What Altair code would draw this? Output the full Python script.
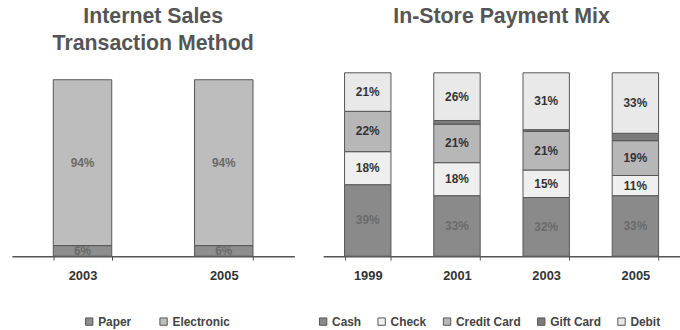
import altair as alt
import pandas as pd

# ---- data ----
internet_years = ["2003", "2005"]
internet_methods = ["Paper", "Electronic"]
paper_pct = [6, 6]
electronic_pct = [94, 94]

store_years = ["1999", "2001", "2003", "2005"]
store_methods = ["Cash", "Check", "Credit Card", "Gift Card", "Debit"]
cash_pct = [39, 33, 32, 33]
check_pct = [18, 18, 15, 11]
credit_pct = [22, 21, 21, 19]
gift_pct = [0, 2, 1, 4]
debit_pct = [21, 26, 31, 33]

internet_colors = ["#8e8e8e", "#bdbdbd"]
store_colors = ["#8a8a8a", "#efefef", "#b7b7b7", "#7c7c7c", "#e9e9e9"]

FONT = "Liberation Sans"


def build(years, methods, series):
    rows = []
    for i, y in enumerate(years):
        for j, m in enumerate(methods):
            rows.append({"year": y, "method": m, "order": j, "value": series[j][i]})
    return pd.DataFrame(rows)


df_int = build(internet_years, internet_methods, [paper_pct, electronic_pct])
df_store = build(store_years, store_methods,
                 [cash_pct, check_pct, credit_pct, gift_pct, debit_pct])


def panel(df, years, methods, colors, title, width, height, ymax, pad_inner,
          legend_x, legend_pad, dark_methods, hide_label):
    xscale = alt.Scale(domain=years, paddingInner=pad_inner, paddingOuter=pad_inner / 2)
    x = alt.X("year:N", scale=xscale, title=None, sort=years,
              axis=alt.Axis(labelAngle=0, labelFont=FONT, labelFontWeight="bold",
                            labelFontSize=13, labelColor="#333", domainColor="#555",
                            domainWidth=1.5, tickColor="#555", tickSize=4,
                            tickBand="extent", labelPadding=10, grid=False))
    base = alt.Chart(df).transform_filter("datum.value > 0").transform_stack(
        stack="value", groupby=["year"], as_=["y0", "y1"],
        sort=[alt.SortField("order", order="ascending")]
    ).transform_calculate(
        mid="(datum.y0 + datum.y1) / 2",
        label="datum.value + '%'",
    )
    yscale = alt.Scale(domain=[0, ymax], nice=False, zero=True)
    bars = base.mark_bar(stroke="#555", strokeWidth=1).encode(
        x=x,
        y=alt.Y("y0:Q", scale=yscale, axis=None),
        y2="y1:Q",
        color=alt.Color("method:N", scale=alt.Scale(domain=methods, range=colors),
                        sort=methods,
                        legend=alt.Legend(title=None, orient="none", direction="horizontal",
                                          legendX=legend_x, legendY=height + 60,
                                          symbolType="square", symbolSize=55,
                                          symbolStrokeColor="#555", symbolStrokeWidth=1,
                                          labelFont=FONT, labelFontWeight="bold",
                                          labelFontSize=12, labelColor="#444",
                                          labelOffset=3, columnPadding=legend_pad)),
        order=alt.Order("order:Q"),
    )
    dark_expr = " || ".join(f"datum.method == '{m}'" for m in dark_methods)
    texts = base.transform_filter(
        f"datum.method != '{hide_label}'"
    ).transform_calculate(
        tc=f"({dark_expr}) ? '#6a6a6a' : '#333333'"
    ).mark_text(font=FONT, fontWeight="bold", fontSize=12).encode(
        x=x,
        y=alt.Y("mid:Q", scale=yscale, axis=None),
        text="label:N",
        color=alt.Color("tc:N", scale=None, legend=None),
    )
    return alt.layer(bars, texts).properties(
        width=width, height=height,
        title=alt.Title(title, font=FONT, fontSize=21.5, fontWeight="bold", color="#555",
                        lineHeight=27, anchor="middle", offset=11.5),
    ).resolve_scale(color="independent")


H = 192
left = panel(df_int, internet_years, internet_methods, internet_colors,
             ["Internet Sales", "Transaction Method"], 285, H, 100 * H / 178, 0.586,
             72, 26, ["Paper", "Electronic"], "__none__")
right = panel(df_store, store_years, store_methods, store_colors,
              ["In-Store Payment Mix", " "], 360, H, 100 * H / 185, 0.48,
              -6, 14, ["Cash"], "Gift Card")

chart = alt.hconcat(left, right, spacing=29, bounds="flush").resolve_scale(
    x="independent", y="independent", color="independent"
).resolve_legend(color="independent").properties(
    padding={"left": 12, "top": 5, "right": 0, "bottom": 0},
    background="white",
).configure_view(stroke=None)

chart.save("out.html", embed_options={"renderer": "svg", "actions": False})
